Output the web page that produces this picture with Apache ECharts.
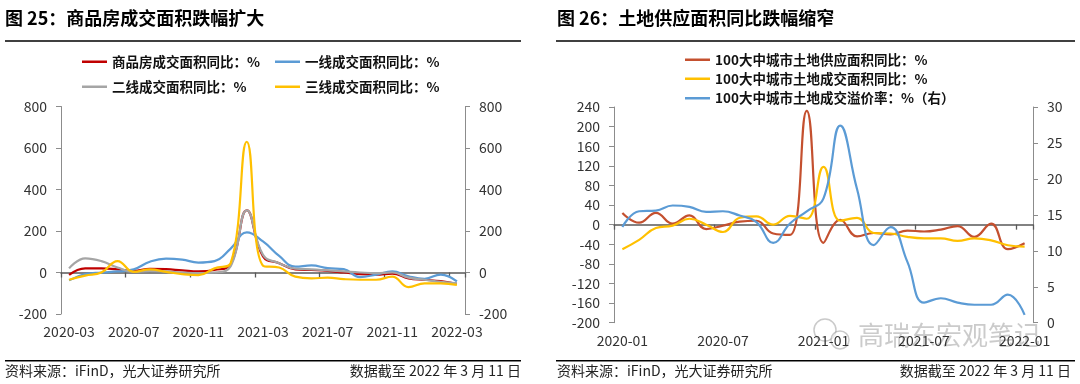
<!DOCTYPE html>
<html><head><meta charset="utf-8">
<script src="https://cdn.jsdelivr.net/npm/echarts@6/dist/echarts.min.js"></script>
<style>html,body{margin:0;padding:0;background:#fff}#c{width:1080px;height:384px}</style>
</head><body><div id="c"></div>
<script>
// ---------- Left chart (图25) ----------
const leftCategories = ['2020-03','2020-04','2020-05','2020-06','2020-07','2020-08','2020-09','2020-10','2020-11','2020-12',
  '2021-01','2021-02','2021-03','2021-04','2021-05','2021-06','2021-07','2021-08','2021-09','2021-10','2021-11','2021-12',
  '2022-01','2022-02','2022-03'];
const leftNames = ['商品房成交面积同比：%','一线成交面积同比：%','二线成交面积同比：%','三线成交面积同比：%'];
const totalArea = [-12, 20, 20, 15, 8, 18, 16, 10, 5, 12, 40, 300, 78, 45, 15, 12, 8, 0, -8, -10, -5, -28, -35, -42, -55];
const tier1Area = [-38, -8, 0, 5, 15, 52, 67, 62, 48, 55, 115, 193, 150, 80, 28, 34, 21, 16, -22, -10, 5, -18, -30, -10, -43];
const tier2Area = [20, 68, 55, 24, 3, 8, 5, 0, -3, 0, 30, 300, 85, 45, 18, 15, 10, 5, 0, -3, 0, -25, -35, -45, -52];
const tier3Area = [-35, -15, 0, 55, 3, 15, 3, -8, -13, 20, 45, 630, 33, 24, -20, -28, -25, -32, -35, -35, -20, -70, -52, -52, -60];

// ---------- Right chart (图26) ----------
const rightCategories = ['2020-01','2020-02','2020-03','2020-04','2020-05','2020-06','2020-07','2020-08','2020-09','2020-10',
  '2020-11','2020-12','2021-01','2021-02','2021-03','2021-04','2021-05','2021-06','2021-07','2021-08','2021-09','2021-10',
  '2021-11','2021-12','2022-01'];
const rightNames = ['100大中城市土地供应面积同比：%','100大中城市土地成交面积同比：%','100大中城市土地成交溢价率：%（右）'];
const landSupply = [24, 4, 24, 2, 19, -9, -2, 6, 8, -18, -21, 232, -37, 10, -24, -17, -20, -12, -14, -10, -3, -25, 2, -50, -38];
const landDeal = [-50, -31, -7, -2, 12, 0, -15, 14, 17, 0, 18, 12, 118, 8, 14, -17, -18, -25, -28, -28, -33, -28, -32, -42, -45];
const premiumRate = [13.3, 15.5, 15.6, 16.3, 16.1, 15.4, 15.5, 14.9, 14.0, 11.1, 13.8, 15.5, 17.3, 27.4, 18.6, 10.8, 13.3, 8.5, 2.8, 3.4, 2.8, 2.5, 2.5, 3.9, 1.1];

const FONT = '"Noto Sans CJK SC","Noto Sans",sans-serif';
const axisGray = '#8c8c8c';
const zeroGray = '#595959';
const labelColor = '#333';

function yAx(grid, pos, min, max, interval) {
  return {
    type: 'value', gridIndex: grid, position: pos, min: min, max: max, interval: interval,
    splitLine: {show: false},
    axisLine: {show: true, onZero: false, lineStyle: {color: axisGray, width: 1}},
    axisTick: {show: true, length: 5, lineStyle: {color: axisGray}},
    axisLabel: {margin: 14, fontSize: 14, color: labelColor, fontFamily: FONT}
  };
}
function xLabelAx(grid, cats, interval) {
  return {
    type: 'category', gridIndex: grid, data: cats, boundaryGap: true, position: 'bottom',
    axisLine: {show: false, onZero: false}, axisTick: {show: false},
    axisLabel: {interval: interval, margin: 11, fontSize: 14, color: labelColor, fontFamily: FONT}
  };
}
function xZeroAx(grid, cats, interval) {
  return {
    type: 'category', gridIndex: grid, data: cats, boundaryGap: true, position: 'bottom',
    axisLine: {show: true, onZero: true, lineStyle: {color: zeroGray, width: 1.6}},
    axisTick: {show: true, interval: interval, length: 5, lineStyle: {color: zeroGray, width: 1.3}},
    axisLabel: {show: false}
  };
}
function lineSeries(name, data, color, xi, yi) {
  return {
    name: name, type: 'line', data: data, xAxisIndex: xi, yAxisIndex: yi,
    smooth: 0.45, symbol: 'none', showSymbol: false,
    lineStyle: {color: color, width: 2.2}, itemStyle: {color: color}
  };
}
function legendItem(name, left, top) {
  return {
    data: [name], left: left, top: top, padding: 0, icon: 'rect', itemWidth: 25, itemHeight: 2.5,
    itemGap: 0, selectedMode: false,
    textStyle: {fontSize: 13.5, fontWeight: 'bold', color: '#111', fontFamily: FONT, padding: [0, 0, 0, 0]}
  };
}
function txt(x, y, s, size, opts) {
  return {
    type: 'text', x: x, y: y, silent: true,
    style: {text: s, font: (opts && opts.weight ? opts.weight + ' ' : '') + size + 'px ' + FONT,
      fill: (opts && opts.fill) || '#000', textAlign: (opts && opts.align) || 'left', textVerticalAlign: 'middle'}
  };
}
function rule(x1, x2, y) {
  return {type: 'line', silent: true, shape: {x1: x1, y1: y, x2: x2, y2: y}, style: {stroke: '#000', lineWidth: 1.5}};
}
function ring(cx, cy, r) {
  return {type: 'circle', silent: true, shape: {cx: cx, cy: cy, r: r},
    style: {fill: 'rgba(255,255,255,0.6)', stroke: 'rgba(150,150,150,0.5)', lineWidth: 1.5}};
}

const colors = {red: '#C00000', blue: '#5B9BD5', gray: '#A5A5A5', yellow: '#FFC000', brick: '#C4502F'};

const option = {
  animation: false,
  textStyle: {fontFamily: FONT},
  grid: [
    {left: 61, right: 1080 - 465, top: 106.5, bottom: 384 - 314, containLabel: false, outerBoundsMode: 'none'},
    {left: 614, right: 1080 - 1033, top: 107, bottom: 384 - 322.7, containLabel: false, outerBoundsMode: 'none'}
  ],
  xAxis: [
    xLabelAx(0, leftCategories, 3), xZeroAx(0, leftCategories, 3),
    xLabelAx(1, rightCategories, 5), xZeroAx(1, rightCategories, 5)
  ],
  yAxis: [
    yAx(0, 'left', -200, 800, 200), yAx(0, 'right', -200, 800, 200),
    yAx(1, 'left', -200, 240, 40), yAx(1, 'right', 0, 30, 5)
  ],
  legend: [
    legendItem(leftNames[0], 82, 55), legendItem(leftNames[1], 275, 55),
    legendItem(leftNames[2], 82, 80), legendItem(leftNames[3], 275, 80),
    legendItem(rightNames[0], 685, 53), legendItem(rightNames[1], 685, 72), legendItem(rightNames[2], 685, 91.5)
  ],
  series: [
    lineSeries(leftNames[0], totalArea, colors.red, 0, 0),
    lineSeries(leftNames[1], tier1Area, colors.blue, 0, 0),
    lineSeries(leftNames[2], tier2Area, colors.gray, 0, 0),
    lineSeries(leftNames[3], tier3Area, colors.yellow, 0, 0),
    lineSeries(rightNames[0], landSupply, colors.brick, 2, 2),
    lineSeries(rightNames[1], landDeal, colors.yellow, 2, 2),
    lineSeries(rightNames[2], premiumRate, colors.blue, 2, 3)
  ],
  graphic: [
    txt(5, 18.5, '图 25：商品房成交面积跌幅扩大', 18, {weight: 'bold'}),
    rule(5, 521, 41),
    txt(557, 18.5, '图 26：土地供应面积同比跌幅缩窄', 18, {weight: 'bold'}),
    rule(556, 1075, 41),
    rule(5, 521, 360.7),
    rule(556, 1075, 360.7),
    txt(5, 371, '资料来源：iFinD，光大证券研究所', 14, {fill: '#222'}),
    txt(521, 371, '数据截至 2022 年 3 月 11 日', 14, {fill: '#222', align: 'right'}),
    txt(557, 371, '资料来源：iFinD，光大证券研究所', 14, {fill: '#222'}),
    txt(1071, 371, '数据截至 2022 年 3 月 11 日', 14, {fill: '#222', align: 'right'}),
    ring(825, 330, 11),
    ring(840, 340, 9),
    txt(858, 335, '高瑞东宏观笔记', 26, {fill: 'rgba(140,140,140,0.45)'})
  ]
};
const chart = echarts.init(document.getElementById('c'), null, {renderer: 'canvas'});
chart.setOption(option);
</script>
</body></html>
